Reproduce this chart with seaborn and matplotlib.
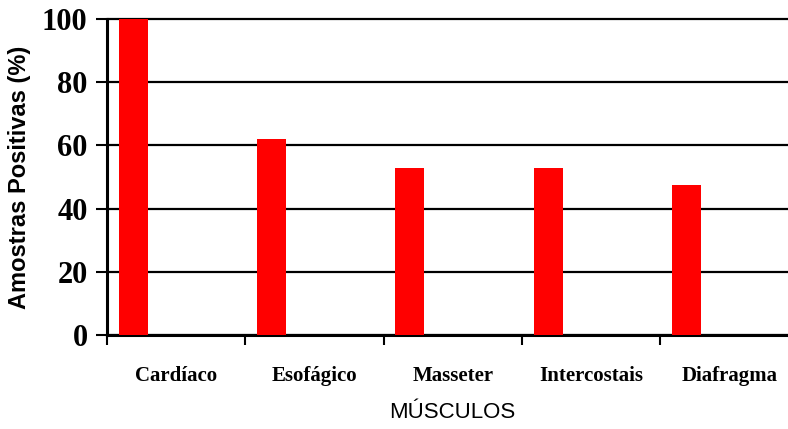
import matplotlib
matplotlib.use('Agg')
import matplotlib.pyplot as plt
import seaborn as sns
import pandas as pd

# Data
musculos = ['Cardíaco', 'Esofágico', 'Masseter', 'Intercostais', 'Diafragma']
positivas = [100, 62, 52.9, 52.9, 47.5]
y_ticks = [0, 20, 40, 60, 80, 100]

df = pd.DataFrame({'Músculo': musculos, 'Positivas': positivas})

sns.set_style('white')
plt.rcParams['text.color'] = 'black'
plt.rcParams['axes.labelcolor'] = 'black'
plt.rcParams['xtick.color'] = 'black'
plt.rcParams['ytick.color'] = 'black'

fig = plt.figure(figsize=(7.88, 4.29), dpi=100)
ax = fig.add_axes([0.1358, 0.2191, 0.8775, 0.7366])

sns.barplot(data=df, x='Músculo', y='Positivas', color='#ff0000', width=0.21,
            saturation=1, ax=ax, zorder=3)

# bars sit at the left side of each category slot
for p in ax.patches:
    p.set_x(p.get_x() - 0.31)
    p.set_edgecolor('none')

ax.set_xlim(-0.5, len(musculos) - 0.5)
ax.set_ylim(0, 100)
ax.set_yticks(y_ticks)
ax.set_yticklabels([str(v) for v in y_ticks], fontfamily='Liberation Serif',
                   fontweight='bold', fontsize=22, color='black')

# category ticks sit on the slot boundaries, labels at slot centres
ax.set_xticks([i - 0.5 for i in range(len(musculos) + 1)])
ax.set_xticklabels([])
ax.set_xticks(range(len(musculos)), minor=True)
ax.set_xticklabels(musculos, minor=True, fontfamily='Liberation Serif',
                   fontweight='bold', fontsize=15, color='black')
ax.tick_params(axis='x', which='minor', bottom=False, length=0, pad=22)
ax.tick_params(axis='x', which='major', bottom=True, length=7, width=1.5,
               color='black', direction='out')
ax.tick_params(axis='y', left=True, length=8, width=1.5, color='black',
               direction='out', pad=6)

ax.yaxis.grid(True, color='black', linewidth=1.6, zorder=1)
for gl in ax.get_ygridlines():
    gl.set_clip_on(False)
ax.xaxis.grid(False)

for s in ['top', 'right']:
    ax.spines[s].set_visible(False)
for s in ['left', 'bottom']:
    ax.spines[s].set_color('black')
    ax.spines[s].set_linewidth(2.2)

ax.set_ylabel('Amostras Positivas (%)', fontfamily='Liberation Sans', fontweight='bold',
              fontsize=17, labelpad=8, color='black')
ax.set_xlabel('MÚSCULOS', fontfamily='Liberation Sans', fontsize=16, labelpad=12,
              color='black')

fig.savefig('out.png', dpi=100)
